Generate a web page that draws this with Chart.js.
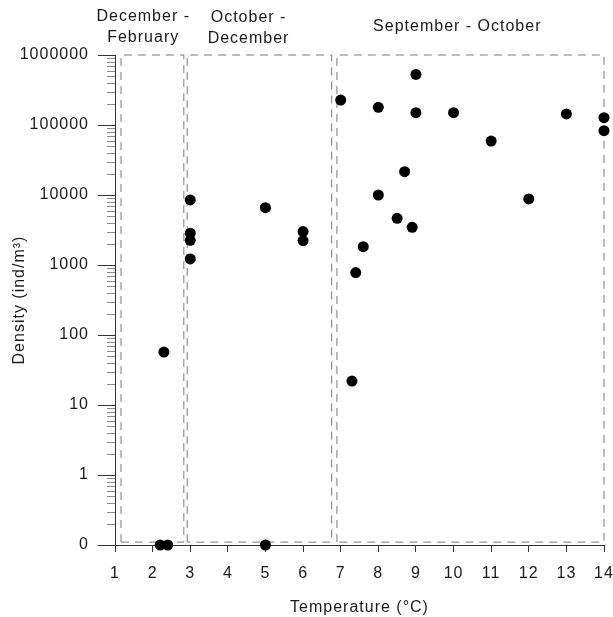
<!DOCTYPE html>
<html>
<head>
<meta charset="utf-8">
<script src="https://cdn.jsdelivr.net/npm/chart.js@4"></script>
<style>
  body { margin: 0; background: #fff; }
</style>
</head>
<body>
<canvas id="myChart" width="613" height="617"></canvas>
<script>
// temperature (°C) and density (ind/m³) for each sample
const tempC = [2.2, 2.4, 5.0, 2.3, 3, 3, 3, 3, 5, 6, 6, 7.0, 7.3, 7.4, 7.6, 8, 8, 8.5, 8.7, 8.9, 9, 9, 10, 11, 12, 13, 14, 14];
const density = [0, 0, 0, 57, 8500, 2850, 2250, 1220, 6600, 3000, 2230, 227000, 22, 780, 1830, 179000, 10000, 4650, 21500, 3450, 527000, 150000, 150000, 59000, 8800, 144000, 127000, 83000];

// sampling periods drawn as dashed boxes
const seasonNames = [['December -', 'February'], ['October -', 'December'], ['September - October']];
const seasonStart = [1.16, 2.92, 6.9];
const seasonEnd = [2.83, 6.76, 14];

const yTicks = [0.1, 1, 10, 100, 1000, 10000, 100000, 1000000];
const yTickLabels = ['0', '1', '10', '100', '1000', '10000', '100000', '1000000'];

const yFloor = 0.1;     // the axis floor, labelled "0"
const boxBottom = 0.11;
const boxTop = 1000000;

const textColor = '#1a1a1a';
const fontFamily = '"Liberation Sans", Arial, sans-serif';
const spacing = '1px';

const points = tempC.map((t, i) => ({ x: t, y: density[i] > 0 ? density[i] : yFloor }));

const boxSets = seasonStart.map((x0, i) => ({
    data: [
        { x: x0, y: boxBottom }, { x: x0, y: boxTop },
        { x: seasonEnd[i], y: boxTop }, { x: seasonEnd[i], y: boxBottom },
        { x: x0, y: boxBottom }
    ],
    showLine: true,
    borderColor: '#7a7a7a',
    borderWidth: 1,
    borderDash: [8, 6],
    pointRadius: 0,
    fill: false,
    tension: 0,
    clip: false,
    order: 2
}));

const letterSpacingPlugin = {
    id: 'letterSpacing',
    beforeUpdate(chart) { chart.ctx.letterSpacing = spacing; },
    beforeDraw(chart) { chart.ctx.letterSpacing = spacing; }
};

// minor log ticks on the y axis and the period names above the boxes
const extrasPlugin = {
    id: 'extras',
    afterDraw(chart) {
        const ctx = chart.ctx;
        const y = chart.scales.y;
        const x = chart.scales.x;
        ctx.save();
        ctx.strokeStyle = '#8a8a8a';
        ctx.lineWidth = 1;
        ctx.beginPath();
        for (let d = 0.1; d < 1000000; d *= 10) {
            for (let k = 2; k <= 9; k++) {
                const py = Math.round(y.getPixelForValue(k * d)) + 0.5;
                ctx.moveTo(y.right - 8, py);
                ctx.lineTo(y.right, py);
            }
        }
        ctx.stroke();

        ctx.fillStyle = textColor;
        ctx.font = '16px ' + fontFamily;
        ctx.letterSpacing = spacing;
        ctx.textAlign = 'center';
        ctx.textBaseline = 'middle';
        const labelX = [1.75, 4.55, 10.1];
        const labelTop = [17, 18, 27];
        seasonNames.forEach((lines, i) => {
            const px = x.getPixelForValue(labelX[i]);
            lines.forEach((line, j) => ctx.fillText(line, px, labelTop[i] + j * 21));
        });
        ctx.restore();
    }
};

const ctx = document.getElementById('myChart').getContext('2d');
const myChart = new Chart(ctx, {
    type: 'scatter',
    data: {
        datasets: [{
            data: points,
            backgroundColor: '#000',
            borderColor: '#000',
            borderWidth: 0,
            pointRadius: 5.5,
            pointHoverRadius: 5.5,
            clip: false,
            order: 1
        }, ...boxSets]
    },
    options: {
        responsive: false,
        animation: false,
        events: [],
        layout: { padding: { top: 55, right: 9, bottom: 0, left: 0 } },
        scales: {
            x: {
                type: 'linear',
                min: 1,
                max: 14,
                grid: {
                    display: true,
                    drawOnChartArea: false,
                    drawTicks: true,
                    tickLength: 7,
                    color: '#333'
                },
                border: { display: true, color: '#333', width: 1 },
                ticks: {
                    stepSize: 1,
                    padding: 12,
                    color: textColor,
                    font: { size: 16, family: fontFamily },
                    maxRotation: 0
                },
                title: {
                    display: true,
                    text: 'Temperature (°C)',
                    color: textColor,
                    font: { size: 16, family: fontFamily },
                    padding: { top: 0, bottom: 0 }
                },
                afterFit(scale) {
                    scale.height = 72;
                    scale.paddingRight = 0;
                    scale.paddingLeft = 0;
                }
            },
            y: {
                type: 'logarithmic',
                min: yFloor,
                max: 1000000,
                afterBuildTicks(scale) {
                    scale.ticks = yTicks.map(v => ({ value: v }));
                },
                grid: {
                    display: true,
                    drawOnChartArea: false,
                    drawTicks: true,
                    tickLength: 17,
                    color: '#333'
                },
                border: { display: true, color: '#333', width: 1 },
                ticks: {
                    padding: 9,
                    color: textColor,
                    font: { size: 16, family: fontFamily },
                    callback: (v) => {
                        const i = yTicks.indexOf(v);
                        return i >= 0 ? yTickLabels[i] : '';
                    }
                },
                title: {
                    display: true,
                    text: 'Density (ind/m³)',
                    color: textColor,
                    font: { size: 16, family: fontFamily },
                    padding: { top: 10, bottom: 0 }
                },
                afterFit(scale) {
                    scale.width = 115;
                    scale.paddingTop = 0;
                    scale.paddingBottom = 0;
                }
            }
        },
        plugins: {
            legend: { display: false },
            tooltip: { enabled: false },
            title: { display: false }
        }
    },
    plugins: [letterSpacingPlugin, extrasPlugin]
});
</script>
</body>
</html>
